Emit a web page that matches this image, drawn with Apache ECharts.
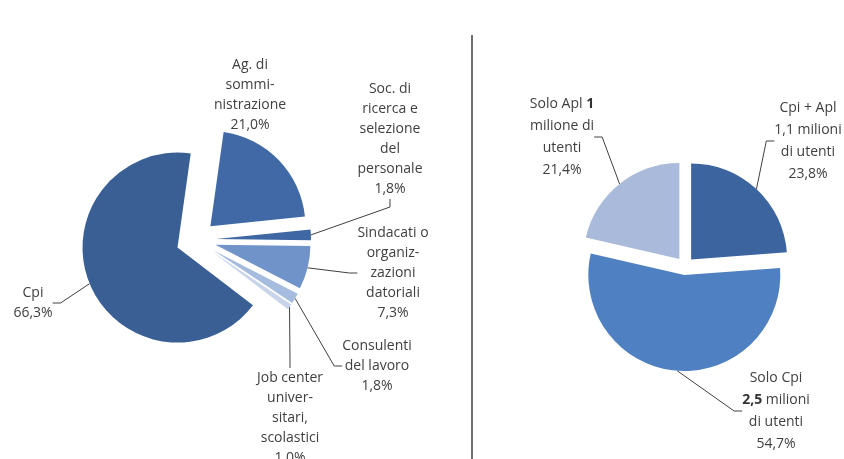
<!DOCTYPE html>
<html>
<head>
<meta charset="utf-8">
<script src="https://cdn.jsdelivr.net/npm/echarts@6/dist/echarts.min.js"></script>
<style>
  html, body { margin: 0; padding: 0; background: #fff; }
  #chart { width: 844px; height: 459px; }
</style>
</head>
<body>
<div id="chart"></div>
<script>
// Canali utilizzati: ripartizione per intermediario (sinistra) e per utenti (destra)
const leftNames = [
  'Ag. di\nsommi-\nnistrazione',
  'Soc. di\nricerca e\nselezione\ndel\npersonale',
  'Sindacati o\norganiz-\nzazioni\ndatoriali',
  'Consulenti\ndel lavoro',
  'Job center\nuniver-\nsitari,\nscolastici',
  'Cpi'
];
const leftValues = [21.0, 1.8, 7.3, 1.8, 1.0, 66.3];

const rightNames = [
  'Cpi + Apl\n1,1 milioni\ndi utenti',
  'Solo Cpi\n{b|2,5} milioni\ndi utenti',
  'Solo Apl {b|1}\nmilione di\nutenti'
];
const rightValues = [23.8, 54.7, 21.4];

// slice colours
const leftColors = ['#4069a6', '#3e67a3', '#7093c9', '#a6bcdf', '#c8d4ea', '#3a5f95'];
const rightColors = ['#3c649e', '#4f80c1', '#a9badb'];

// label anchor points (centre of each text block) and leader-line visibility
const leftLabelPos = [[250, 95], [390, 139], [393, 273], [377, 366], [290, 418], [33, 303]];
const leftLineShow = [false, true, true, true, true, true];
const rightLabelPos = [[808, 141], [776, 411], [562, 137]];

const pct = v => v.toFixed(1).replace('.', ',') + '%';

// One pie series per slice: every series holds the full data, only slice i is painted,
// and the series centre is pushed out along that slice's bisector (exploded pie).
function explodedPie(cfg) {
  const total = cfg.values.reduce((a, b) => a + b, 0);
  const list = [];
  let cum = 0;
  cfg.values.forEach((v, i) => {
    const midClock = (90 - cfg.startAngle) + (cum + v / 2) / total * 360;
    cum += v;
    const rad = midClock * Math.PI / 180;
    const cx = cfg.center[0] + cfg.offset * Math.sin(rad);
    const cy = cfg.center[1] - cfg.offset * Math.cos(rad);
    list.push({
      type: 'pie',
      center: [cx, cy],
      radius: cfg.radius,
      startAngle: cfg.startAngle,
      clockwise: true,
      avoidLabelOverlap: false,
      silent: true,
      emphasis: { disabled: true },
      data: cfg.values.map((val, j) => ({
        name: cfg.names[j],
        value: val,
        itemStyle: j === i
          ? { color: cfg.colors[j], borderWidth: 0 }
          : { color: 'rgba(0,0,0,0)', borderWidth: 0 },
        label: { show: j === i },
        labelLine: { show: j === i && (cfg.lineShow ? cfg.lineShow[j] : true) }
      })),
      label: {
        show: true,
        position: 'outside',
        color: '#404040',
        fontFamily: 'Open Sans',
        fontSize: 14,
        lineHeight: cfg.lineHeight,
        align: 'center',
        rich: { b: { fontWeight: 'bold', fontFamily: 'Open Sans', fontSize: 14, lineHeight: cfg.lineHeight, color: '#333' } },
        formatter: p => p.name + '\n' + pct(p.value)
      },
      labelLine: { show: true, length: 8, length2: 8, lineStyle: { color: '#404040', width: 1 } },
      labelLayout: p => ({
        x: cfg.labelPos[p.dataIndex][0],
        y: cfg.labelPos[p.dataIndex][1],
        align: 'center',
        verticalAlign: 'middle'
      })
    });
  });
  return list;
}

const chart = echarts.init(document.getElementById('chart'), null, { renderer: 'canvas' });

chart.setOption({
  animation: false,
  backgroundColor: '#fff',
  graphic: [{
    type: 'line',
    shape: { x1: 472, y1: 35, x2: 472, y2: 459 },
    style: { stroke: '#4a4a4a', lineWidth: 1.6 }
  }],
  series: [].concat(
    explodedPie({
      names: leftNames, values: leftValues, colors: leftColors,
      lineShow: leftLineShow, labelPos: leftLabelPos,
      center: [196, 240], radius: 95, startAngle: 82, offset: 20, lineHeight: 20
    }),
    explodedPie({
      names: rightNames, values: rightValues, colors: rightColors,
      lineShow: null, labelPos: rightLabelPos,
      center: [685, 266], radius: 96, startAngle: 90, offset: 9, lineHeight: 22
    })
  )
});
</script>
</body>
</html>
